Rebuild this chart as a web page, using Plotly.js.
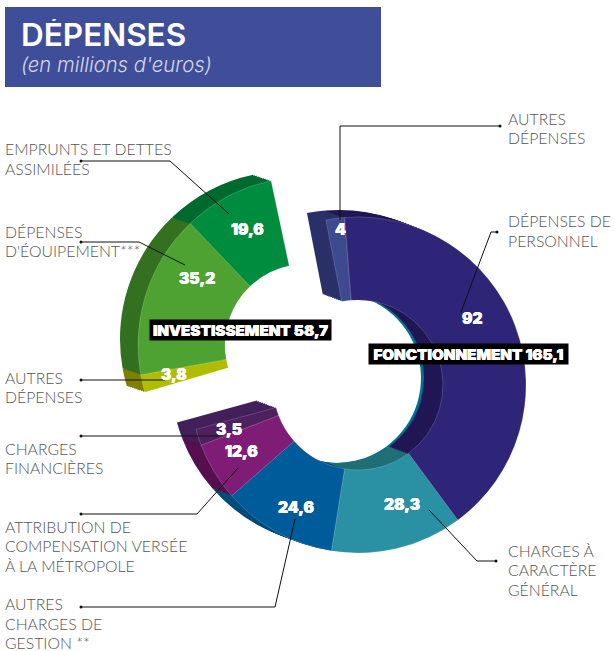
<!DOCTYPE html>
<html><head><meta charset="utf-8">
<script src="https://cdn.plot.ly/plotly-3.0.1.min.js"></script>
<style>html,body{margin:0;padding:0;background:#fff}#c{width:615px;height:651px}</style>
</head><body><div id="c"></div>
<script>
const categories = ["Autres dépenses","Dépenses de personnel","Charges à caractère général","Autres charges de gestion","Attribution de compensation","Charges financières","Autres dépenses inv.","Dépenses d'équipement","Emprunts et dettes"];
const values = [4,92,28.3,24.6,12.6,3.5,3.8,35.2,19.6];
const groupMain = [1,1,1,1,1,1,0,0,0];
const faceColors = ["#3d4a8f","#2e2579","#2a90a3","#005b9b","#7f1c75","#4f2060","#b0bc00","#4ea232","#008c3e"];
const wallColors = ["#2a3068","#211755","#1f6f75","#004d7a","#56104f","#42205a","#7f7f00","#33701f","#006a2f"];
const innerWall = ["#00000000","#00708f","#00708f","#00607f","#00000000","#00000000","#00000000","#00000000","#00000000"];
const sliceLabels = ["4","92","28,3","24,6","12,6","3,5","3,8","35,2","19,6"];
const totals = ["FONCTIONNEMENT 165,1","INVESTISSEMENT 58,7"];
const W=615,H=651, T="rgba(0,0,0,0)";
function pie(cx,cy,R,hole,rot,colors,mask,line){
  return {type:"pie",labels:categories,values:values,sort:false,direction:"clockwise",rotation:rot,hole:hole,
    textinfo:"none",hoverinfo:"skip",showlegend:false,
    domain:{x:[(cx-R)/W,(cx+R)/W],y:[1-(cy+R)/H,1-(cy-R)/H]},
    marker:{colors:colors.map((c,i)=>mask[i]?c:T),
      line:line?{width:0.5,color:colors.map((c,i)=>mask[i]?"rgba(255,255,255,0.35)":T)}:{width:0}}};
}
const groupInv = groupMain.map(v=>1-v);
const traces=[];
const mx=358,my=385,mR=168,mr=85,mRot=-11;
const ix=306,iy=345,iR=168,ir=81,iRot=-12;
// teal inner stripe of the main ring
traces.push(pie(mx-22,my-7,100,0.85,mRot,innerWall,groupMain,false));
const N=10;
for(let i=N;i>=1;i--){const t=i/N;
  traces.push(pie(mx-19*t,my-7*t,mR,mr/mR,mRot,wallColors,groupMain,false));
}
traces.push(pie(mx,my,mR,mr/mR,mRot,faceColors,groupMain,true));
for(let i=N;i>=1;i--){const t=i/N;
  traces.push(pie(ix-18*t,iy-6*t,iR,ir/iR,iRot,wallColors,groupInv,false));
}
traces.push(pie(ix,iy,iR,ir/iR,iRot,faceColors,groupInv,true));

const px=x=>x/W, py=y=>1-y/H;
const leaders=[
 [[81,161],[170,161],[229,214]],
 [[81,242],[139,242],[185,265]],
 [[81,380],[165,380]],
 [[81,436],[219,436]],
 [[81,514],[197,514],[238,468]],
 [[81,607],[275,607],[295,519]],
 [[500,126],[340,126],[340,220]],
 [[497,232],[491,232],[461,312]],
 [[496,561],[477,561],[429,510]]
];
const shapes=[{type:"rect",xref:"paper",yref:"paper",x0:px(5),x1:px(381),y0:py(87),y1:py(7),fillcolor:"#3f4e99",line:{width:0},layer:"below"}];
leaders.forEach(l=>{
  for(let i=0;i<l.length-1;i++)shapes.push({type:"line",xref:"paper",yref:"paper",x0:px(l[i][0]),y0:py(l[i][1]),x1:px(l[i+1][0]),y1:py(l[i+1][1]),line:{color:"#111",width:1}});
  shapes.push({type:"circle",xref:"paper",yref:"paper",x0:px(l[0][0]-1.5),x1:px(l[0][0]+1.5),y0:py(l[0][1]+1.5),y1:py(l[0][1]-1.5),fillcolor:"#111",line:{width:0}});
});
const lab={family:"Lato, 'Open Sans', sans-serif",size:15.8,color:"#555",weight:300};
const blockLabels=[
 [4,148.5,["EMPRUNTS ET DETTES","ASSIMILÉES"]],
 [4,230.5,["DÉPENSES","D'ÉQUIPEMENT***"]],
 [4,376.5,["AUTRES","DÉPENSES"]],
 [4,447.5,["CHARGES","FINANCIÈRES"]],
 [4,525.5,["ATTRIBUTION DE","COMPENSATION VERSÉE","À LA MÉTROPOLE"]],
 [4,603,["AUTRES","CHARGES DE","GESTION **"]],
 [507,117.5,["AUTRES","DÉPENSES"]],
 [507,220.5,["DÉPENSES DE","PERSONNEL"]],
 [507,549.5,["CHARGES À","CARACTÈRE","GÉNÉRAL"]]
];
const ann=[];
blockLabels.forEach(b=>b[2].forEach((t,j)=>ann.push({xref:"paper",yref:"paper",x:px(b[0]),y:py(b[1]+j*19.5),text:t,showarrow:false,font:lab,xanchor:"left",yanchor:"middle",height:14,borderpad:0})));
ann.push({xref:"paper",yref:"paper",x:px(20),y:py(34),text:"DÉPENSES",showarrow:false,font:{family:"Inter",size:31.5,color:"#fff",weight:600},xanchor:"left",yanchor:"middle",height:30,borderpad:0});
ann.push({xref:"paper",yref:"paper",x:px(20),y:py(64),text:"<i>(en millions d'euros)</i>",showarrow:false,font:{family:"Inter",size:20.3,color:"#d5d8ea",weight:300},xanchor:"left",yanchor:"middle",height:24,borderpad:0});
const valPos=[[340,229],[472,318],[402,504],[296,507],[241,452],[229,429],[174,374],[197,278],[247,229]];
const thick="0.25px 0 0 #fff, -0.25px 0 0 #fff";
const vf={family:"Inter",size:15.5,color:"#fff",weight:900,shadow:thick};
sliceLabels.forEach((s,i)=>ann.push({xref:"paper",yref:"paper",x:px(valPos[i][0]),y:py(valPos[i][1]),text:s,showarrow:false,font:vf,xanchor:"center",yanchor:"middle",borderpad:0}));
const bf={family:"Inter",size:15.2,color:"#fff",weight:900,shadow:thick};
ann.push({xref:"paper",yref:"paper",x:px(468.5),y:py(354),text:totals[0],showarrow:false,font:bf,bgcolor:"#000",width:199,height:20,xanchor:"center",yanchor:"middle",borderpad:0});
ann.push({xref:"paper",yref:"paper",x:px(240.5),y:py(330),text:totals[1],showarrow:false,font:bf,bgcolor:"#000",width:181,height:20,xanchor:"center",yanchor:"middle",borderpad:0});
Plotly.newPlot("c",traces,{width:W,height:H,margin:{l:0,r:0,t:0,b:0},paper_bgcolor:"#fff",shapes:shapes,annotations:ann},{displayModeBar:false,staticPlot:true});
</script></body></html>
